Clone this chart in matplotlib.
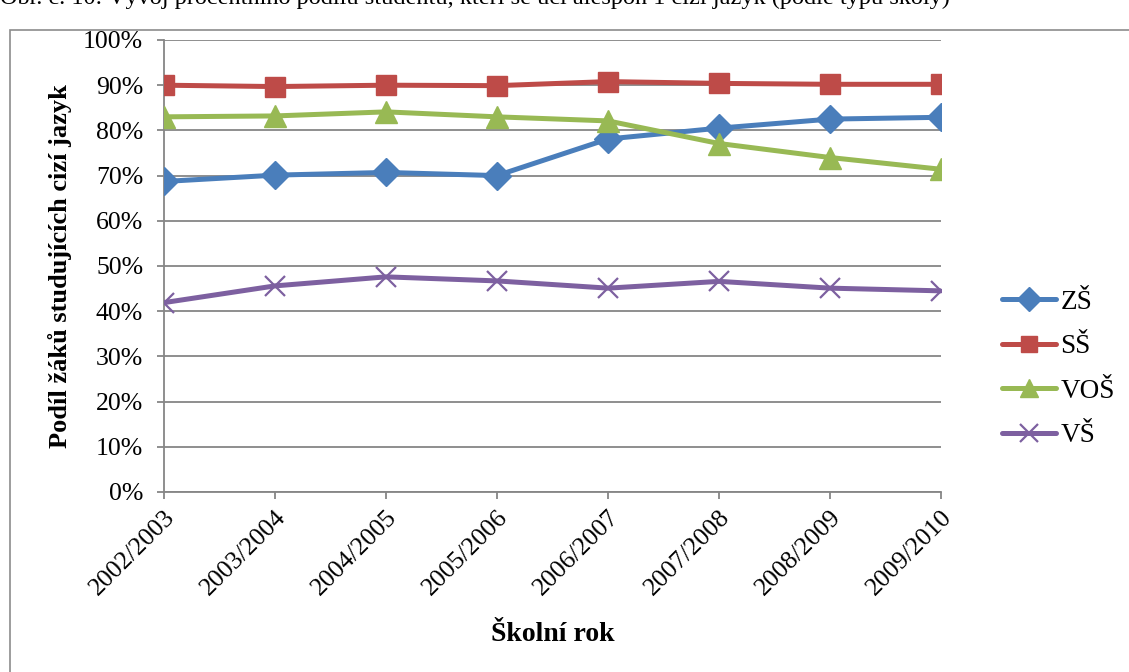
import matplotlib
matplotlib.use("Agg")
import matplotlib.pyplot as plt
from matplotlib.patches import Rectangle
from matplotlib.ticker import PercentFormatter, MultipleLocator

years = ["2002/2003", "2003/2004", "2004/2005", "2005/2006",
         "2006/2007", "2007/2008", "2008/2009", "2009/2010"]
zs = [68.7, 70.1, 70.7, 70.0, 78.1, 80.5, 82.5, 82.9]
ss = [90.0, 89.7, 90.0, 89.9, 90.8, 90.4, 90.2, 90.2]
vos = [83.0, 83.2, 84.1, 83.0, 82.1, 77.1, 74.0, 71.4]
vs = [41.9, 45.6, 47.6, 46.7, 45.1, 46.6, 45.1, 44.5]

series = [("ZŠ", zs, "#4A7EBB", "D", 14),
          ("SŠ", ss, "#BE4B48", "s", 14),
          ("VOŠ", vos, "#98B954", "^", 16),
          ("VŠ", vs, "#7D60A0", "x", 15)]

plt.rcParams["font.family"] = ["Liberation Serif", "DejaVu Serif"]

fig = plt.figure(figsize=(11.29, 6.72), dpi=100)
ax = fig.add_axes([164 / 1129, 1 - 492 / 672, (941 - 164) / 1129, (492 - 40) / 672])

# outer chart frame, cut by the page edge
fig.patches.append(Rectangle((10 / 1129, -0.1), 1.2, 1 - 30 / 672 + 0.1,
                             transform=fig.transFigure, fill=False,
                             ec="#8c8c8c", lw=1.2))
fig.text(0.0, 1 - 4 / 672,
         "Obr. č. 10: Vývoj procentního podílu studentů, kteří se učí alespoň 1 cizí jazyk (podle typu školy)",
         ha="left", va="baseline", fontsize=17.5)

x = list(range(len(years)))
for name, vals, col, mk, ms in series:
    if mk == "x":
        ax.plot(x, vals, color=col, lw=3.6, marker=mk, ms=ms, mew=1.6,
                label=name, solid_capstyle="round", zorder=3)
    else:
        ax.plot(x, vals, color=col, lw=3.6, marker=mk, ms=ms, mec=col,
                label=name, solid_capstyle="round", zorder=3)

ax.set_xlim(0, len(years) - 1)
ax.set_ylim(0, 100)
ax.yaxis.set_major_locator(MultipleLocator(10))
ax.yaxis.set_major_formatter(PercentFormatter(decimals=0))
ax.set_xticks(x)
ax.set_xticklabels(years, rotation=45, ha="right", rotation_mode="anchor")
ax.grid(axis="y", color="#868686", lw=1.3)
ax.set_axisbelow(True)
for s in ["top", "right"]:
    ax.spines[s].set_visible(False)
for s in ["left", "bottom"]:
    ax.spines[s].set_color("#868686")
    ax.spines[s].set_linewidth(1.3)
ax.tick_params(axis="both", colors="#868686", width=1.3, length=5,
               labelcolor="black", labelsize=18.5)
ax.tick_params(axis="y", pad=10)
ax.tick_params(axis="x", pad=5)

ax.set_ylabel("Podíl žáků studujících cizí jazyk", fontsize=19, fontweight="bold", labelpad=8)
ax.set_xlabel("Školní rok", fontsize=20, fontweight="bold", labelpad=16)

leg = ax.legend(loc="center left", bbox_to_anchor=(1002 / 1129, 1 - 369 / 672),
                bbox_transform=fig.transFigure, borderaxespad=0, borderpad=0,
                frameon=False, fontsize=19.5, handlelength=2.0, handletextpad=0.15,
                labelspacing=0.72, markerscale=0.85)

fig.savefig("out.png", dpi=100)
